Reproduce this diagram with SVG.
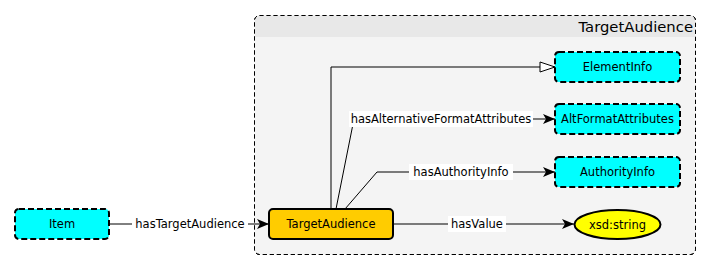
<svg xmlns="http://www.w3.org/2000/svg" width="710" height="270" viewBox="0 0 710 270">
  <style>
    text { font-family: "DejaVu Sans", "Liberation Sans", sans-serif; font-size: 11.5px; fill: #000; }
    .cls rect { fill: #00ffff; stroke: #000; stroke-width: 2; stroke-dasharray: 6 3; }
    .main rect { fill: #ffcc00; stroke: #000; stroke-width: 2; }
    .lit ellipse { fill: #ffff00; stroke: #000; stroke-width: 2; }
    .node text { text-anchor: middle; dominant-baseline: central; }
    .edge { fill: none; stroke: #000; stroke-width: 1; }
    .lbl rect { fill: #fff; }
    .lbl text { text-anchor: middle; dominant-baseline: central; }
  </style>
  <defs>
    <marker id="arrow" viewBox="0 0 12 10" refX="12" refY="5" markerWidth="12" markerHeight="10" markerUnits="userSpaceOnUse" orient="auto">
      <path d="M0,0 L12,5 L0,10 L3,5 Z" fill="#000"/>
    </marker>
    <marker id="hollow" viewBox="0 0 17 12" refX="16" refY="6" markerWidth="17" markerHeight="12" markerUnits="userSpaceOnUse" orient="auto">
      <path d="M1,1 L16,6 L1,11 Z" fill="#fff" stroke="#000" stroke-width="1"/>
    </marker>
  </defs>

  <!-- container for the TargetAudience package -->
  <g id="container">
    <rect x="254.5" y="15.5" width="441" height="239" rx="5" fill="#f4f4f4" stroke="#000" stroke-dasharray="4 3"/>
    <path d="M255,37 V20 a4.5,4.5 0 0 1 4.5,-4.5 H690.5 a4.5,4.5 0 0 1 4.5,4.5 V37 Z" fill="#e8e8e8"/>
    <rect x="254.5" y="15.5" width="441" height="239" rx="5" fill="none" stroke="#000" stroke-dasharray="4 3"/>
    <text x="693" y="32" text-anchor="end" style="font-size:14.8px">TargetAudience</text>
  </g>

  <!-- connectors -->
  <g id="connectors">
    <path class="edge" d="M109,224 H269" marker-end="url(#arrow)"/>
    <path class="edge" d="M393,224 H574" marker-end="url(#arrow)"/>
    <path class="edge" d="M331,209 V67 H555" marker-end="url(#hollow)"/>
    <path class="edge" d="M336,209 L354,119 H555" marker-end="url(#arrow)"/>
    <path class="edge" d="M345,209 L377,172 H555" marker-end="url(#arrow)"/>

    <g class="lbl">
      <rect x="132" y="216" width="116" height="16"/>
      <text x="190" y="224">hasTargetAudience</text>
    </g>
    <g class="lbl">
      <rect x="448" y="216" width="58" height="16"/>
      <text x="477" y="224">hasValue</text>
    </g>
    <g class="lbl">
      <rect x="349" y="111" width="184" height="16"/>
      <text x="441" y="119">hasAlternativeFormatAttributes</text>
    </g>
    <g class="lbl">
      <rect x="409" y="164" width="104" height="16"/>
      <text x="461" y="172">hasAuthorityInfo</text>
    </g>
  </g>

  <!-- nodes -->
  <g id="node-item" class="node cls">
    <rect x="15" y="209" width="94" height="30" rx="4"/>
    <text x="62" y="224">Item</text>
  </g>
  <g id="node-targetaudience" class="node main">
    <rect x="269" y="209" width="124" height="30" rx="4"/>
    <text x="331" y="224">TargetAudience</text>
  </g>
  <g id="node-elementinfo" class="node cls">
    <rect x="555" y="52" width="125" height="30" rx="4"/>
    <text x="617.5" y="67">ElementInfo</text>
  </g>
  <g id="node-altformatattributes" class="node cls">
    <rect x="555" y="104" width="125" height="30" rx="4"/>
    <text x="617.5" y="119">AltFormatAttributes</text>
  </g>
  <g id="node-authorityinfo" class="node cls">
    <rect x="555" y="157" width="125" height="30" rx="4"/>
    <text x="617.5" y="172">AuthorityInfo</text>
  </g>
  <g id="node-xsdstring" class="node lit">
    <ellipse cx="617.5" cy="224.5" rx="43" ry="14.5"/>
    <text x="617.5" y="224.5">xsd:string</text>
  </g>
</svg>
